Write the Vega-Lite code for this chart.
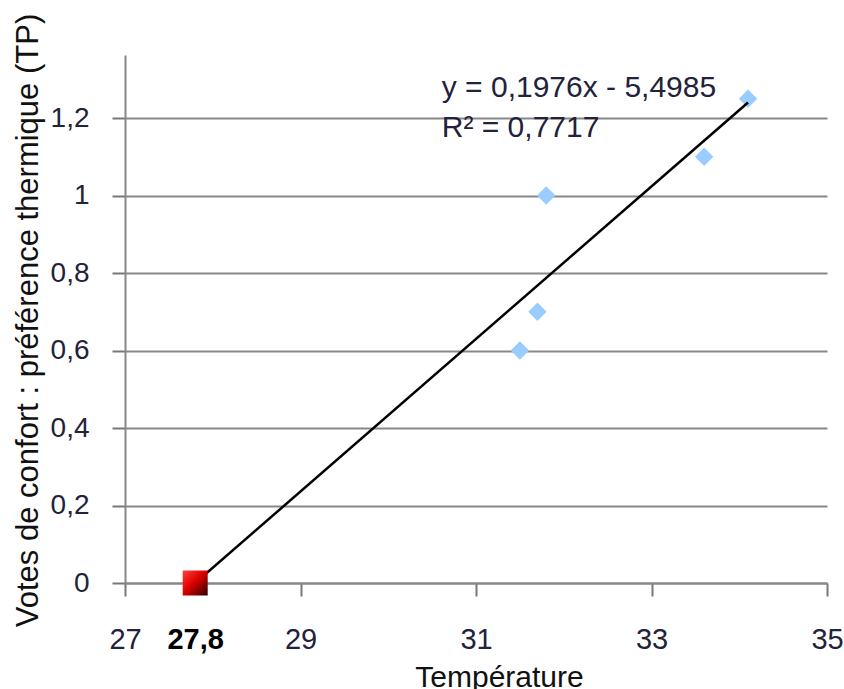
{
  "$schema": "https://vega.github.io/schema/vega-lite/v6.json",
  "autosize": "none",
  "width": 702,
  "height": 528,
  "padding": {"top": 55, "left": 125, "right": 17, "bottom": 106},
  "background": "white",
  "config": {
    "view": {"stroke": null},
    "font": "Liberation Sans"
  },
  "datasets": {
    "points": [
      {"temperature": 31.5, "tp": 0.6},
      {"temperature": 31.7, "tp": 0.7},
      {"temperature": 31.8, "tp": 1.0},
      {"temperature": 33.6, "tp": 1.1},
      {"temperature": 34.1, "tp": 1.25}
    ],
    "trend": [
      {"temperature": 27.8, "tp": 0.0},
      {"temperature": 34.1, "tp": 1.24}
    ],
    "neutral": [
      {"temperature": 27.8, "tp": 0.0}
    ],
    "equation": [
      {"line1": "y = 0,1976x - 5,4985", "line2": "R² = 0,7717"}
    ]
  },
  "layer": [
    {
      "data": {"name": "points"},
      "mark": {"type": "point", "shape": "diamond", "filled": true, "size": 340, "color": "#99ccff", "opacity": 1},
      "encoding": {
        "x": {
          "field": "temperature",
          "type": "quantitative",
          "scale": {"domain": [27, 35], "nice": false, "zero": false},
          "axis": {
            "title": "Température",
            "titleFont": "Liberation Sans",
            "titleFontSize": 30,
            "titleFontWeight": "normal",
            "titleColor": "#111",
            "titleX": 374,
            "titleY": 103,
            "titleAlign": "center",
            "titleBaseline": "alphabetic",
            "values": [27, 27.8, 29, 31, 33, 35],
            "labelExpr": "replace(toString(datum.value), '.', ',')",
            "labelFont": "Liberation Sans",
            "labelFontSize": 29,
            "labelColor": {"condition": {"test": "datum.value == 27.8", "value": "#000000"}, "value": "#22223a"},
            "labelFontWeight": {"condition": {"test": "datum.value == 27.8", "value": "bold"}, "value": "normal"},
            "tickOpacity": {"condition": {"test": "datum.value == 27.8", "value": 0}, "value": 1},
            "labelPadding": 29,
            "labelFlush": false,
            "labelOverlap": false,
            "grid": false,
            "domainColor": "#888888",
            "domainWidth": 2,
            "tickColor": "#777777",
            "tickWidth": 2,
            "tickSize": 13
          }
        },
        "y": {
          "field": "tp",
          "type": "quantitative",
          "scale": {"domain": [0, 1.3626], "nice": false},
          "axis": {
            "title": "Votes de confort : préférence thermique (TP)",
            "titleFont": "Liberation Sans",
            "titleFontSize": 31,
            "titleFontWeight": "normal",
            "titleColor": "#111",
            "titleAngle": -90,
            "titleX": -88,
            "titleY": 265,
            "titleAlign": "center",
            "titleBaseline": "alphabetic",
            "values": [0, 0.2, 0.4, 0.6, 0.8, 1, 1.2],
            "labelExpr": "replace(toString(datum.value), '.', ',')",
            "labelFont": "Liberation Sans",
            "labelFontSize": 28,
            "labelColor": "#22223a",
            "labelPadding": 23,
            "labelFlush": false,
            "labelOverlap": false,
            "grid": true,
            "gridColor": "#888888",
            "gridWidth": 2,
            "domainColor": "#888888",
            "domainWidth": 2,
            "tickColor": "#777777",
            "tickWidth": 2,
            "tickSize": 13
          }
        }
      }
    },
    {
      "data": {"name": "trend"},
      "mark": {"type": "line", "color": "#000000", "strokeWidth": 2.5},
      "encoding": {
        "x": {"field": "temperature", "type": "quantitative"},
        "y": {"field": "tp", "type": "quantitative"}
      }
    },
    {
      "data": {"name": "neutral"},
      "mark": {
        "type": "point",
        "shape": "square",
        "filled": true,
        "size": 625,
        "opacity": 1,
        "strokeWidth": 0,
        "color": {
          "gradient": "linear",
          "x1": 0, "y1": 0, "x2": 1, "y2": 1,
          "stops": [
            {"offset": 0, "color": "#ff4040"},
            {"offset": 0.45, "color": "#e00000"},
            {"offset": 1, "color": "#2a0000"}
          ]
        }
      },
      "encoding": {
        "x": {"field": "temperature", "type": "quantitative"},
        "y": {"field": "tp", "type": "quantitative"}
      }
    },
    {
      "data": {"name": "equation"},
      "mark": {
        "type": "text",
        "align": "left",
        "baseline": "alphabetic",
        "font": "Liberation Sans",
        "fontSize": 30,
        "color": "#22223a"
      },
      "encoding": {
        "x": {"datum": 30.61, "type": "quantitative"},
        "y": {"datum": 1.253, "type": "quantitative"},
        "text": {"field": "line1"}
      }
    },
    {
      "data": {"name": "equation"},
      "mark": {
        "type": "text",
        "align": "left",
        "baseline": "alphabetic",
        "font": "Liberation Sans",
        "fontSize": 30,
        "color": "#22223a"
      },
      "encoding": {
        "x": {"datum": 30.61, "type": "quantitative"},
        "y": {"datum": 1.151, "type": "quantitative"},
        "text": {"field": "line2"}
      }
    }
  ]
}
